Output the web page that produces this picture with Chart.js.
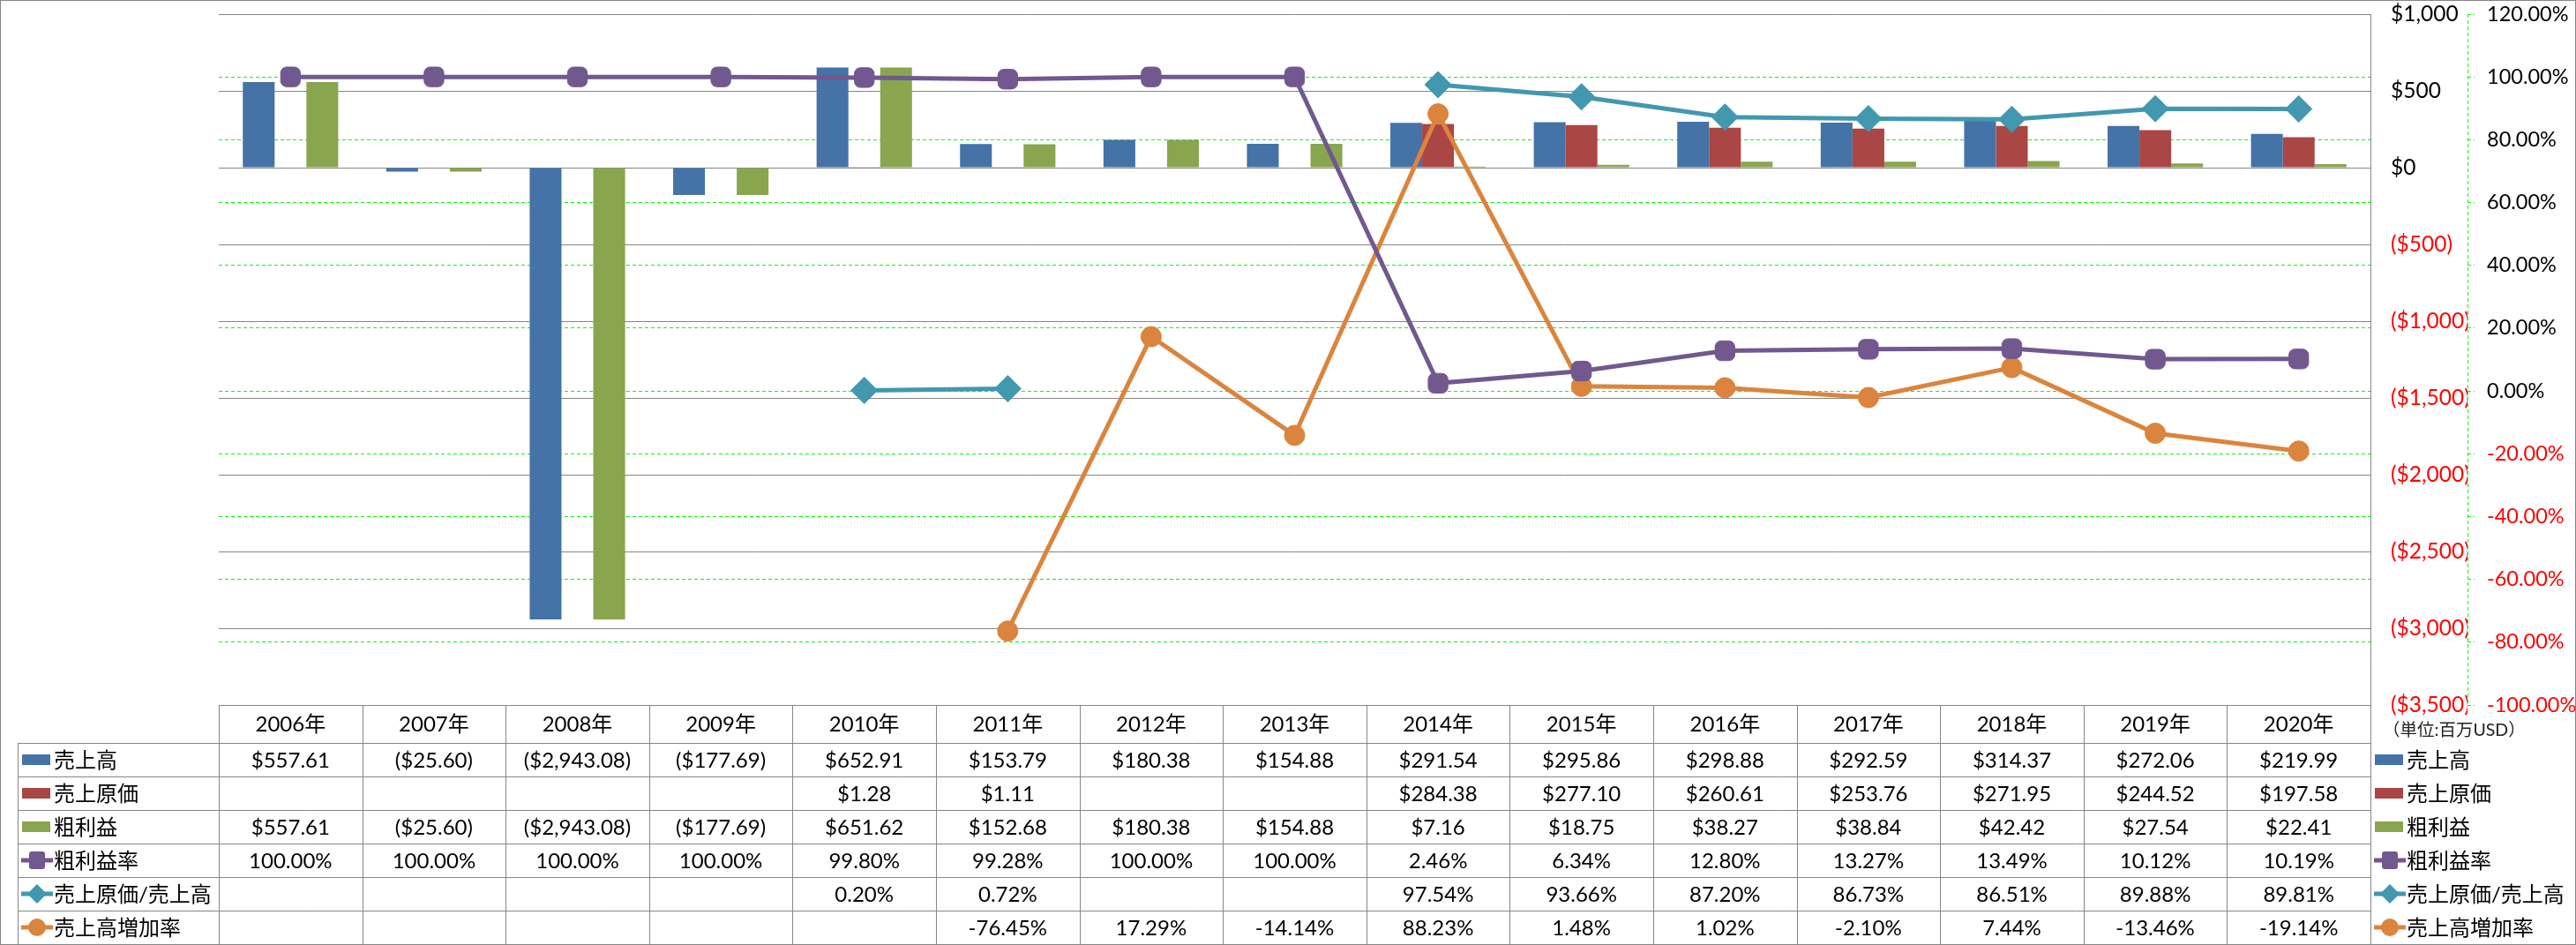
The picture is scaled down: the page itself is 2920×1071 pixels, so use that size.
<!DOCTYPE html>
<html>
<head>
<meta charset="utf-8">
<title>売上高・粗利益の推移</title>
<script src="https://cdn.jsdelivr.net/npm/chart.js@4.4.1/dist/chart.umd.min.js"></script>
<style>
  html, body { margin: 0; padding: 0; background: #fff; }
  canvas { display: block; }
</style>
</head>
<body>
<canvas id="salesChart" width="2920" height="1071"></canvas>
<script>
// --- data (百万USD) ---
const years = ['2006年', '2007年', '2008年', '2009年', '2010年', '2011年', '2012年', '2013年',
               '2014年', '2015年', '2016年', '2017年', '2018年', '2019年', '2020年'];
const sales = [557.61, -25.60, -2943.08, -177.69, 652.91, 153.79, 180.38, 154.88,
               291.54, 295.86, 298.88, 292.59, 314.37, 272.06, 219.99];
const costOfSales = [null, null, null, null, 1.28, 1.11, null, null,
                     284.38, 277.10, 260.61, 253.76, 271.95, 244.52, 197.58];
const grossProfit = [557.61, -25.60, -2943.08, -177.69, 651.62, 152.68, 180.38, 154.88,
                     7.16, 18.75, 38.27, 38.84, 42.42, 27.54, 22.41];
const grossMargin = [100, 100, 100, 100, 99.80, 99.28, 100, 100,
                     2.46, 6.34, 12.80, 13.27, 13.49, 10.12, 10.19];
const costRatio = [null, null, null, null, 0.20, 0.72, null, null,
                   97.54, 93.66, 87.20, 86.73, 86.51, 89.88, 89.81];
const salesGrowth = [null, null, null, null, null, -76.45, 17.29, -14.14,
                     88.23, 1.48, 1.02, -2.10, 7.44, -13.46, -19.14];

const moneyTicks = [-3500, -3000, -2500, -2000, -1500, -1000, -500, 0, 500, 1000];
const pctTicks = [-100, -80, -60, -40, -20, 0, 20, 40, 60, 80, 100, 120];
const unitNote = '（単位:百万USD）';

const FONT = 'Lato, "Noto Sans CJK JP", sans-serif';
const C = {
    blue: '#4572A7', red: '#AA4643', green: '#89A54E',
    purple: '#71588F', teal: '#4198AF', orange: '#DB843D',
    grid: '#868686', lime: '#00FF00'
};

function money(v, decimals) {
    if (v === null || v === undefined) return '';
    const s = '$' + Math.abs(v).toLocaleString('en-US', {
        minimumFractionDigits: decimals, maximumFractionDigits: decimals });
    return v < 0 ? '(' + s + ')' : s;
}
function pct(v) {
    if (v === null || v === undefined) return '';
    return v.toFixed(2) + '%';
}

const tableRows = [
    { label: '売上高', values: sales, fmt: v => money(v, 2), key: 'bar', color: C.blue },
    { label: '売上原価', values: costOfSales, fmt: v => money(v, 2), key: 'bar', color: C.red },
    { label: '粗利益', values: grossProfit, fmt: v => money(v, 2), key: 'bar', color: C.green },
    { label: '粗利益率', values: grossMargin, fmt: pct, key: 'square', color: C.purple },
    { label: '売上原価/売上高', values: costRatio, fmt: pct, key: 'diamond', color: C.teal },
    { label: '売上高増加率', values: salesGrowth, fmt: pct, key: 'circle', color: C.orange }
];

function drawKey(ctx, row, x0, cy) {
    ctx.save();
    ctx.fillStyle = row.color;
    ctx.strokeStyle = row.color;
    if (row.key === 'bar') {
        ctx.fillRect(x0, cy - 6, 32, 12);
    } else {
        const cx = x0 + 17;
        ctx.lineWidth = 5;
        ctx.beginPath();
        ctx.moveTo(x0 - 1, cy);
        ctx.lineTo(x0 + 35, cy);
        ctx.stroke();
        ctx.beginPath();
        if (row.key === 'square') {
            ctx.roundRect(cx - 9, cy - 10, 18, 20, 3);
        } else if (row.key === 'diamond') {
            ctx.moveTo(cx, cy - 11); ctx.lineTo(cx + 11, cy);
            ctx.lineTo(cx, cy + 11); ctx.lineTo(cx - 11, cy);
            ctx.closePath();
        } else {
            ctx.arc(cx, cy, 10, 0, Math.PI * 2);
        }
        ctx.fill();
    }
    ctx.restore();
}

const crisp = v => Math.round(v) + 0.5;

const dataTable = {
    id: 'dataTable',
    beforeDraw(chart) {
        const ctx = chart.ctx;
        ctx.save();
        ctx.fillStyle = '#fff';
        ctx.fillRect(0, 0, chart.width, chart.height);
        ctx.restore();
    },
    afterDraw(chart) {
        const { ctx, chartArea: a, scales } = chart;
        const x = scales.x;
        const y1 = scales.y1;
        const colW = (a.right - a.left) / years.length;
        const headTop = a.bottom, headBot = a.bottom + 43, rowH = 38;
        const tableLeft = 20;
        const tableBot = headBot + rowH * tableRows.length;

        ctx.save();
        // secondary axis line (green dashed)
        ctx.strokeStyle = C.lime;
        ctx.lineWidth = 1;
        ctx.setLineDash([4, 3]);
        ctx.beginPath();
        ctx.moveTo(crisp(y1.left), y1.top);
        ctx.lineTo(crisp(y1.left), y1.bottom);
        ctx.stroke();
        ctx.setLineDash([]);

        // table grid
        ctx.strokeStyle = C.grid;
        ctx.beginPath();
        ctx.moveTo(a.left, crisp(headTop));
        ctx.lineTo(a.right, crisp(headTop));
        for (let r = 0; r <= tableRows.length; r++) {
            const yy = crisp(headBot + r * rowH);
            ctx.moveTo(tableLeft, yy);
            ctx.lineTo(a.right, yy);
        }
        ctx.moveTo(crisp(tableLeft), headBot);
        ctx.lineTo(crisp(tableLeft), tableBot);
        for (let c = 0; c <= years.length; c++) {
            const xx = crisp(a.left + c * colW);
            ctx.moveTo(xx, headTop);
            ctx.lineTo(xx, tableBot);
        }
        ctx.stroke();

        // header
        ctx.fillStyle = '#000';
        ctx.textBaseline = 'middle';
        ctx.textAlign = 'center';
        ctx.font = '24px ' + FONT;
        years.forEach((yr, i) => {
            ctx.fillText(yr, x.getPixelForValue(i), (headTop + headBot) / 2 + 1);
        });

        // rows
        tableRows.forEach((row, r) => {
            const cy = headBot + r * rowH + rowH / 2;
            ctx.textAlign = 'center';
            ctx.font = '24px ' + FONT;
            ctx.fillStyle = '#000';
            row.values.forEach((v, i) => {
                ctx.fillText(row.fmt(v), x.getPixelForValue(i), cy + 1);
            });
            // left legend
            drawKey(ctx, row, 25, cy);
            ctx.textAlign = 'left';
            ctx.font = '24px ' + FONT;
            ctx.fillStyle = '#000';
            ctx.fillText(row.label, 61, cy + 1);
            // right legend
            drawKey(ctx, row, a.right + 5, cy);
            ctx.fillText(row.label, a.right + 41, cy + 1);
        });

        // unit note
        ctx.font = '19.5px ' + FONT;
        ctx.fillStyle = '#222';
        ctx.textAlign = 'left';
        ctx.fillText(unitNote, a.right + 14, headTop + 29);

        // outer frame
        ctx.strokeStyle = C.grid;
        ctx.strokeRect(0.5, 0.5, chart.width - 1, chart.height - 1);
        ctx.restore();
    }
};

new Chart(document.getElementById('salesChart'), {
    type: 'bar',
    data: {
        labels: years,
        datasets: [
            { type: 'line', label: '粗利益率', data: grossMargin, yAxisID: 'y1', order: 0,
              borderColor: C.purple, backgroundColor: C.purple, borderWidth: 5,
              pointStyle: 'rectRounded', pointRadius: 13, pointBorderWidth: 1,
              pointBackgroundColor: C.purple, pointBorderColor: C.purple, tension: 0 },
            { type: 'line', label: '売上原価/売上高', data: costRatio, yAxisID: 'y1', order: 0,
              borderColor: C.teal, backgroundColor: C.teal, borderWidth: 5,
              pointStyle: 'rectRot', pointRadius: 15, pointBorderWidth: 1,
              pointBackgroundColor: C.teal, pointBorderColor: C.teal, spanGaps: false, tension: 0 },
            { type: 'line', label: '売上高増加率', data: salesGrowth, yAxisID: 'y1', order: 0,
              borderColor: C.orange, backgroundColor: C.orange, borderWidth: 5,
              pointStyle: 'circle', pointRadius: 11.5, pointBorderWidth: 1,
              pointBackgroundColor: C.orange, pointBorderColor: C.orange, spanGaps: false, tension: 0 },
            { label: '売上高', data: sales, yAxisID: 'y', order: 1, backgroundColor: C.blue,
              categoryPercentage: 0.665, barPercentage: 1 },
            { label: '売上原価', data: costOfSales, yAxisID: 'y', order: 1, backgroundColor: C.red,
              categoryPercentage: 0.665, barPercentage: 1 },
            { label: '粗利益', data: grossProfit, yAxisID: 'y', order: 1, backgroundColor: C.green,
              categoryPercentage: 0.665, barPercentage: 1 }
        ]
    },
    options: {
        responsive: false,
        animation: false,
        devicePixelRatio: 1,
        layout: { padding: { left: 248, top: 15, right: 0, bottom: 272 } },
        plugins: { legend: { display: false }, tooltip: { enabled: false } },
        scales: {
            x: { display: false },
            y: {
                position: 'right',
                min: moneyTicks[0],
                max: moneyTicks[moneyTicks.length - 1],
                ticks: {
                    stepSize: moneyTicks[1] - moneyTicks[0],
                    padding: 23,
                    font: { family: FONT, size: 24.5 },
                    color: c => (c.tick && c.tick.value < 0 ? '#FF0000' : '#000'),
                    callback: v => money(v, 0)
                },
                grid: { color: C.grid, lineWidth: 1, drawTicks: false },
                border: { color: C.grid, width: 1 },
                afterFit(s) { s.width = 110; s.paddingTop = 0; s.paddingBottom = 0; }
            },
            y1: {
                position: 'right',
                min: pctTicks[0],
                max: pctTicks[pctTicks.length - 1],
                ticks: {
                    stepSize: pctTicks[1] - pctTicks[0],
                    padding: 14,
                    font: { family: FONT, size: 23.5 },
                    color: c => (c.tick && c.tick.value < 0 ? '#FF0000' : '#000'),
                    callback: v => pct(v)
                },
                grid: {
                    color: c => (c.tick && (c.tick.value === pctTicks[0] ||
                        c.tick.value === pctTicks[pctTicks.length - 1]) ? 'rgba(0,0,0,0)' : C.lime),
                    tickColor: C.lime, tickLength: 8, lineWidth: 1,
                    borderDash: [4, 3], tickBorderDash: [4, 3]
                },
                border: { display: false, dash: [4, 3] },
                afterFit(s) { s.width = 123; s.paddingTop = 0; s.paddingBottom = 0; }
            }
        }
    },
    plugins: [dataTable]
});
</script>
</body>
</html>
